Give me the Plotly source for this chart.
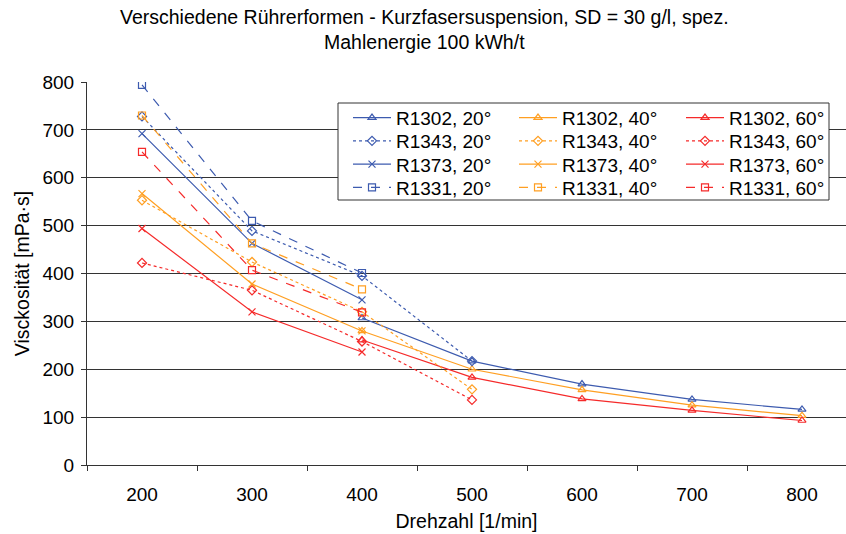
import plotly.graph_objects as go

categories = ["200", "300", "400", "500", "600", "700", "800"]

x_r1302 = ["400", "500", "600", "700", "800"]
r1302_20 = [307, 217, 169, 137, 116]
r1302_40 = [280, 200, 157, 125, 103]
r1302_60 = [261, 183, 138, 114, 93]

x_r1343 = ["200", "300", "400", "500"]
r1343_20 = [728, 489, 395, 217]
r1343_40 = [553, 424, 320, 158]
r1343_60 = [422, 365, 258, 136]

x_r1373 = ["200", "300", "400"]
r1373_20 = [692, 463, 345]
r1373_40 = [567, 378, 280]
r1373_60 = [494, 320, 236]

x_r1331 = ["200", "300", "400"]
r1331_20 = [794, 510, 401]
r1331_40 = [730, 463, 367]
r1331_60 = [654, 407, 319]

title_text = "Verschiedene Rührerformen - Kurzfasersuspension, SD = 30 g/l, spez.<br>Mahlenergie 100 kWh/t"

BLUE = "#3D5BAF"
ORANGE = "#FF9F22"
RED = "#F52A2A"
FONT = "Liberation Sans, Arial, sans-serif"

# name, x, y, color, dash, symbol, (row, col) in legend
series = [
    ("R1302, 20°", x_r1302, r1302_20, BLUE, "solid", "triangle-up-open", (0, 0)),
    ("R1302, 40°", x_r1302, r1302_40, ORANGE, "solid", "triangle-up-open", (0, 1)),
    ("R1302, 60°", x_r1302, r1302_60, RED, "solid", "triangle-up-open", (0, 2)),
    ("R1343, 20°", x_r1343, r1343_20, BLUE, "dot", "diamond-open", (1, 0)),
    ("R1343, 40°", x_r1343, r1343_40, ORANGE, "dot", "diamond-open", (1, 1)),
    ("R1343, 60°", x_r1343, r1343_60, RED, "dot", "diamond-open", (1, 2)),
    ("R1373, 20°", x_r1373, r1373_20, BLUE, "solid", "x-thin-open", (2, 0)),
    ("R1373, 40°", x_r1373, r1373_40, ORANGE, "solid", "x-thin-open", (2, 1)),
    ("R1373, 60°", x_r1373, r1373_60, RED, "solid", "x-thin-open", (2, 2)),
    ("R1331, 20°", x_r1331, r1331_20, BLUE, "dash", "square-open", (3, 0)),
    ("R1331, 40°", x_r1331, r1331_40, ORANGE, "dash", "square-open", (3, 1)),
    ("R1331, 60°", x_r1331, r1331_60, RED, "dash", "square-open", (3, 2)),
]

W, H = 846, 534
L, R, T, B = 87, 0, 82, 69
pw = W - L - R
ph = H - T - B

def px_x(p):
    return (p - L) / pw

def px_y(p):
    return (H - B - p) / ph

fig = go.Figure()
legend_layout = {}
col_left = [348, 514, 681]
row_mid = [117.7, 141.0, 164.3, 187.6]
for i, (name, xs, ys, col, dash, sym, (r, c)) in enumerate(series):
    key = "legend" if i == 0 else "legend%d" % (i + 1)
    fig.add_trace(go.Scatter(
        x=xs, y=ys, name=name, mode="lines+markers",
        line=dict(color=col, width=1.2, dash=dash),
        marker=dict(symbol=sym, size=7, color=col, line=dict(color=col, width=1.2)),
        legend=key, showlegend=True,
    ))
    legend_layout[key] = dict(
        x=px_x(col_left[c]), y=px_y(row_mid[r]),
        xanchor="left", yanchor="middle",
        font=dict(family=FONT, size=19, color="black"),
        bgcolor="rgba(0,0,0,0)", borderwidth=0,
        itemwidth=38,
    )

fig.update_layout(
    width=W, height=H,
    showlegend=True,
    margin=dict(l=L, r=R, t=T, b=B),
    paper_bgcolor="white", plot_bgcolor="white",
    font=dict(family=FONT, size=19, color="black"),
    xaxis=dict(
        type="category", categoryorder="array", categoryarray=categories,
        range=[-0.5, 6.4], tickson="boundaries",
        ticks="outside", ticklen=5, tickcolor="#333", tickwidth=1,
        showline=True, linecolor="#333", linewidth=1,
        showgrid=False, zeroline=False,
        ticklabelstandoff=12,
        tickfont=dict(family=FONT, size=19),
        title=dict(text="Drehzahl [1/min]", font=dict(family=FONT, size=19.5), standoff=10),
    ),
    yaxis=dict(
        range=[0, 800], dtick=100, tick0=0,
        ticks="outside", ticklen=5, tickcolor="#333", tickwidth=1,
        showline=True, linecolor="#333", linewidth=1,
        showgrid=True, gridcolor="#333", gridwidth=1,
        zeroline=False,
        ticklabelstandoff=3,
        tickfont=dict(family=FONT, size=19),
        title=dict(text="Visckosität [mPa·s]", font=dict(family=FONT, size=19.5), standoff=7),
    ),
    annotations=[dict(
        text=title_text, xref="paper", yref="paper",
        x=px_x(424), y=px_y(30), xanchor="center", yanchor="middle",
        showarrow=False, align="center",
        font=dict(family=FONT, size=19.5, color="black"),
    )],
    shapes=[dict(
        type="rect", xref="paper", yref="paper",
        x0=px_x(338), x1=px_x(829), y0=px_y(200), y1=px_y(103),
        line=dict(color="#333", width=1), fillcolor="white", layer="above",
    )],
    **legend_layout,
)

fig.write_html("out.html")
